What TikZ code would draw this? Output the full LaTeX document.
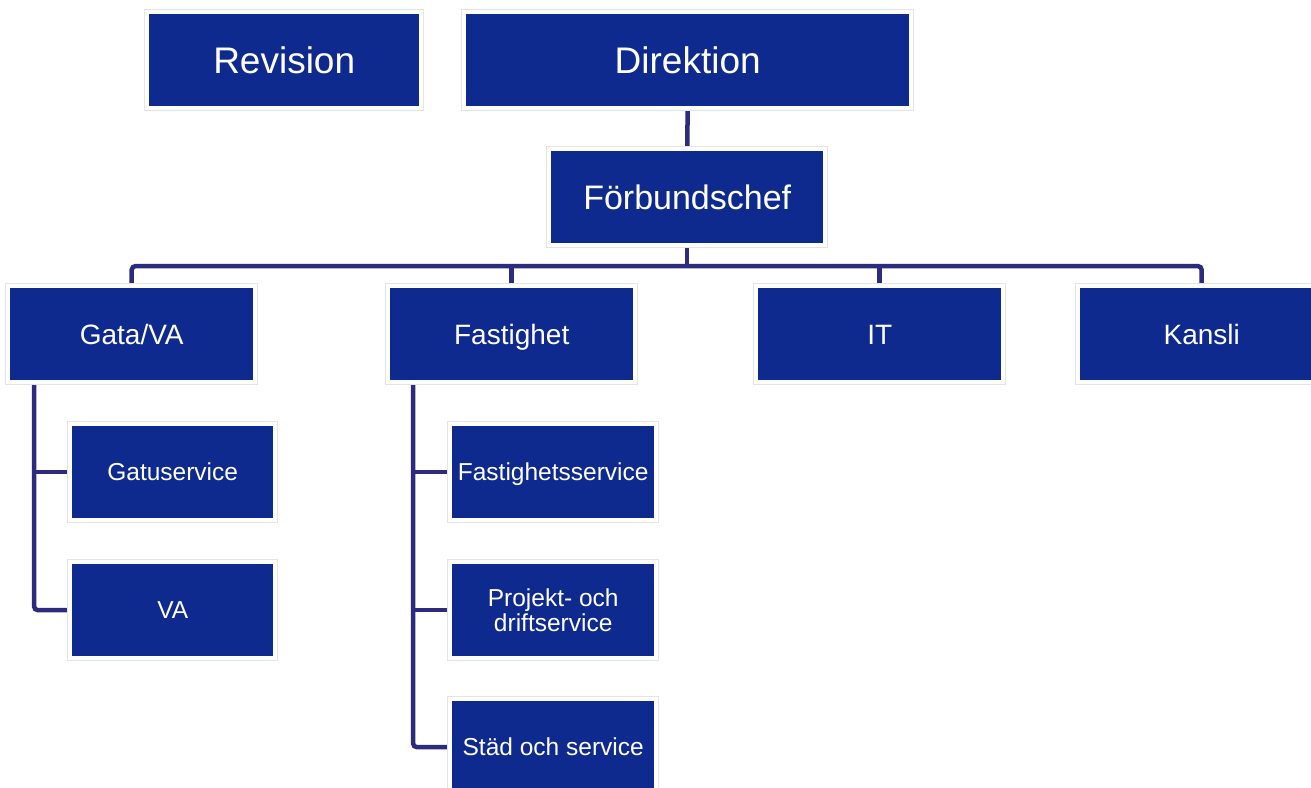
\documentclass[tikz,border=0pt]{standalone}
\usepackage{fontspec}
\setmainfont{Liberation Sans}
\definecolor{boxblue}{HTML}{0F2A8F}
\definecolor{linenavy}{HTML}{2D2B7E}
\definecolor{halogray}{HTML}{E4E4E4}
\pgfdeclarelayer{bg}
\pgfdeclarelayer{halo}
\pgfsetlayers{bg,halo,main}
\tikzset{
  box/.style={fill=boxblue, text=white, anchor=north west, inner sep=0pt,
    minimum width=#1, minimum height=92pt, align=center},
  big/.style={font=\fontsize{37}{40}\selectfont, text height=26.5pt, text depth=0pt},
  mid/.style={font=\fontsize{34}{38}\selectfont, text height=24.3pt, text depth=0pt},
  lvl2/.style={font=\fontsize{28}{31}\selectfont, text height=20pt, text depth=0pt},
  lvl3/.style={font=\fontsize{24.5}{25}\selectfont, text height=17.5pt, text depth=0pt},
  free/.style={text height={}, text depth={}},
  conn/.style={draw=linenavy, line width=4.5pt, rounded corners=4pt},
  halo/.style={draw=halogray, fill=white, line width=1pt}
}
\newcommand{\halobox}[1]{%
  \begin{pgfonlayer}{halo}
    \draw[halo] ([shift={(-4.5pt,4.5pt)}]#1.north west) rectangle ([shift={(4.5pt,-4.5pt)}]#1.south east);
  \end{pgfonlayer}}
\begin{document}
\begin{tikzpicture}[x=1pt,y=-1pt]
\useasboundingbox (0,0) rectangle (1311,787);
% top level
\node[box=270pt, big] (rev) at (149,14) {Revision};
\node[box=443pt, big] (dir) at (466,14) {Direktion};
\node[box=272pt, mid] (fb) at (551,151) {Förbundschef};
% second level
\node[box=243pt, lvl2] (gata) at (10,288) {Gata/VA};
\node[box=243pt, lvl2] (fast) at (390,288) {Fastighet};
\node[box=243pt, lvl2] (it) at (758,288) {IT};
\node[box=243pt, lvl2] (kans) at (1080,288) {Kansli};
% third level
\node[box=201pt, lvl3] (gatus) at (72,426) {Gatuservice};
\node[box=201pt, lvl3] (va) at (72,564) {VA};
\node[box=202pt, lvl3] (fserv) at (452,426) {Fastighetsservice};
\node[box=202pt, lvl3, free] (proj) at (452,564) {Projekt- och\\driftservice};
\node[box=202pt, lvl3] (stad) at (452,701) {Städ och service};
\foreach \n in {rev,dir,fb,gata,fast,it,kans,gatus,va,fserv,proj,stad}{\halobox{\n}}
\coordinate (bus) at (0,266);
\coordinate (gl) at (34,0);
\coordinate (fl) at (413,0);
\begin{pgfonlayer}{bg}
\draw[conn] (dir.south) -- (fb.north);
\draw[conn] (fb.south) -- (fb.south |- bus);
\draw[conn] (gata.north) -- (gata.north |- bus) -- (kans.north |- bus) -- (kans.north);
\draw[conn] (fast.north |- bus) -- (fast.north);
\draw[conn] (it.north |- bus) -- (it.north);
\draw[conn] (gata.south -| gl) -- (va.west -| gl) -- (va.west);
\draw[conn] (gatus.west -| gl) -- (gatus.west);
\draw[conn] (fast.south -| fl) -- (stad.west -| fl) -- (stad.west);
\draw[conn] (fserv.west -| fl) -- (fserv.west);
\draw[conn] (proj.west -| fl) -- (proj.west);
\end{pgfonlayer}
\end{tikzpicture}
\end{document}
